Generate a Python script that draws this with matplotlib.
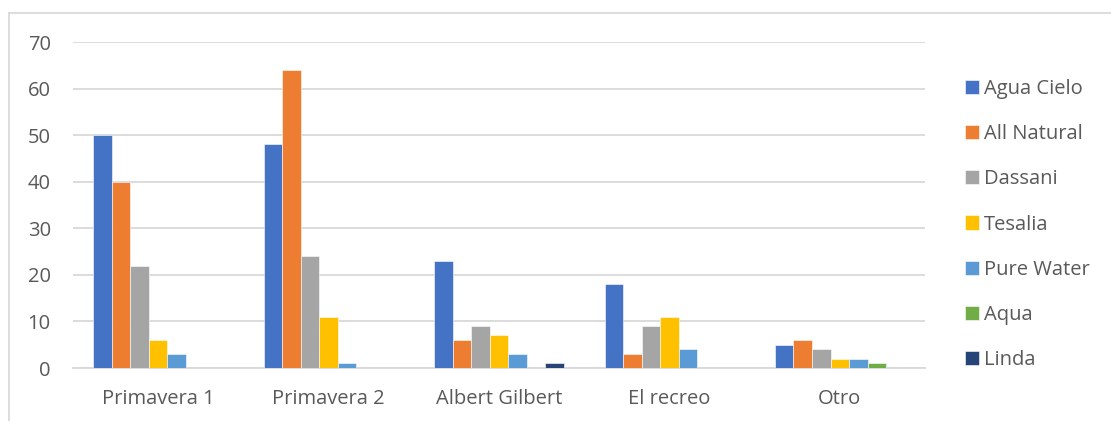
import matplotlib
matplotlib.use("Agg")
import matplotlib.pyplot as plt
from matplotlib.lines import Line2D
import numpy as np

plt.rcParams['font.family'] = ['Open Sans', 'DejaVu Sans']

categories = ["Primavera 1", "Primavera 2", "Albert Gilbert", "El recreo", "Otro"]
series_names = ["Agua Cielo", "All Natural", "Dassani", "Tesalia", "Pure Water", "Aqua", "Linda"]
agua_cielo = [50, 48, 23, 18, 5]
all_natural = [40, 64, 6, 3, 6]
dassani = [22, 24, 9, 9, 4]
tesalia = [6, 11, 7, 11, 2]
pure_water = [3, 1, 3, 4, 2]
aqua = [0, 0, 0, 0, 1]
linda = [0, 0, 1, 0, 0]
series_values = [agua_cielo, all_natural, dassani, tesalia, pure_water, aqua, linda]
colors = ["#4472C4", "#ED7D31", "#A5A5A5", "#FFC000", "#5B9BD5", "#70AD47", "#264478"]
yticks = [0, 10, 20, 30, 40, 50, 60, 70]

W, H = 1111, 421
fig = plt.figure(figsize=(W / 100, H / 100), dpi=100)
ax = fig.add_axes([73 / W, 1 - 368 / H, (925 - 73) / W, (368 - 42) / H])

n = len(series_names)
group_w = 1.0
bar_w = group_w / (n + 2.19)
x = np.arange(len(categories))
for i, (name, vals, c) in enumerate(zip(series_names, series_values, colors)):
    offs = (i - (n - 1) / 2) * bar_w
    ax.bar(x + offs, vals, width=bar_w, color=c, label=name,
           edgecolor="white", linewidth=0.4, zorder=3)

ax.set_xlim(-0.5, len(categories) - 0.5)
ax.set_ylim(0, 70)
ax.set_yticks(yticks)
ax.set_xticks(x)
ax.set_xticklabels(categories)
ax.tick_params(axis="both", length=0, labelsize=14.5, colors="#595959")
ax.tick_params(axis="y", pad=16)
ax.tick_params(axis="x", pad=15)
ax.grid(axis="y", color="#D9D9D9", linewidth=1.3, zorder=0)
for s in ["top", "right", "left"]:
    ax.spines[s].set_visible(False)
ax.spines["bottom"].set_color("#D9D9D9")
ax.spines["bottom"].set_linewidth(1.3)
ax.set_axisbelow(True)

leg = ax.legend(loc="upper left", bbox_to_anchor=(955 / W, 1 - 69 / H),
                bbox_transform=fig.transFigure, frameon=False, fontsize=14.5,
                handlelength=0.7, handleheight=0.7, handletextpad=0.25,
                labelspacing=1.25, labelcolor="#595959", borderpad=0)

# outer chart border (top and left visible)
fig.add_artist(Line2D([9 / W, 1.0], [1 - 13 / H, 1 - 13 / H], color="#D9D9D9", linewidth=1.3,
                      transform=fig.transFigure))
fig.add_artist(Line2D([9 / W, 9 / W], [0, 1 - 13 / H], color="#D9D9D9", linewidth=1.3,
                      transform=fig.transFigure))

fig.savefig("out.png", dpi=100)
